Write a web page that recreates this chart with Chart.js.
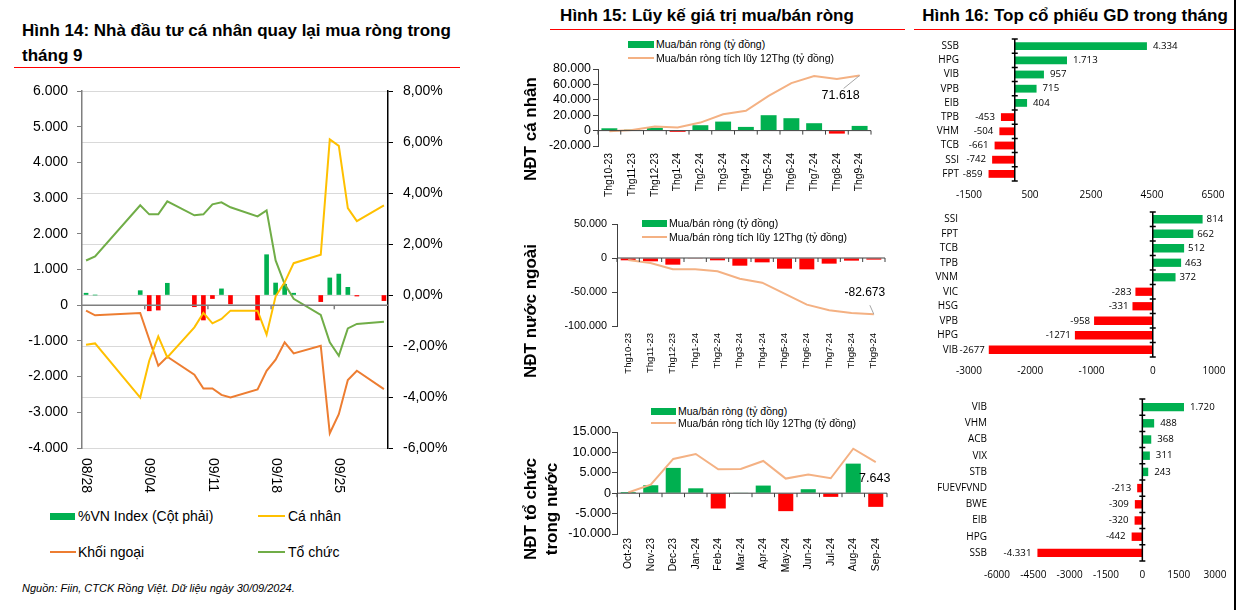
<!DOCTYPE html>
<html>
<head>
<meta charset="utf-8">
<script src="https://cdn.jsdelivr.net/npm/chart.js@4.4.0/dist/chart.umd.min.js"></script>
<style>
body { margin: 0; width: 1238px; height: 610px; background: #fff; position: relative; overflow: hidden; font-family: "Liberation Sans", Arial, sans-serif; color: #000; }
canvas { position: absolute; }
.title { position: absolute; font-weight: bold; font-size: 17px; line-height: 25px; white-space: nowrap; }
.rule { position: absolute; height: 0; border-top: 1.5px solid #f00; }
.rot { position: absolute; font-weight: bold; font-size: 17px; line-height: 21px; white-space: nowrap; text-align: center; transform: translate(-50%, -50%) rotate(-90deg); }
.lg { position: absolute; white-space: nowrap; height: 14px; line-height: 14px; }
.lg span { display: inline-block; vertical-align: middle; }
.small { font-size: 10.5px; }
.big { font-size: 14px; height: 18px; line-height: 18px; }
</style>
</head>
<body>

<div class="title" style="left:22px; top:18px;">Hình 14: Nhà đầu tư cá nhân quay lại mua ròng trong<br>tháng 9</div>
<div class="rule" style="left:14px; top:67px; width:446px;"></div>
<div class="title" style="left:707px; top:3px; transform:translateX(-50%);">Hình 15: Lũy kế giá trị mua/bán ròng</div>
<div class="rule" style="left:550px; top:29px; width:355px;"></div>
<div class="title" style="left:1075px; top:3px; transform:translateX(-50%);">Hình 16: Top cổ phiếu GD trong tháng</div>
<div class="rule" style="left:914px; top:29px; width:322px;"></div>
<div style="position:absolute; left:1234px; top:0; width:1.5px; height:610px; background:#000;"></div>

<canvas id="c14" width="450" height="424" style="left:14px; top:80px;"></canvas>
<canvas id="c15a" width="340" height="145" style="left:540px; top:60px;"></canvas>
<canvas id="c15b" width="355" height="175" style="left:540px; top:215px;"></canvas>
<canvas id="c15c" width="357" height="160" style="left:540px; top:422px;"></canvas>
<canvas id="c16a" width="315" height="175" style="left:915px; top:30px;"></canvas>
<canvas id="c16b" width="315" height="175" style="left:915px; top:205px;"></canvas>
<canvas id="c16c" width="316" height="200" style="left:915px; top:390px;"></canvas>

<div class="rot" style="left:530px; top:129px;">NĐT cá nhân</div>
<div class="rot" style="left:530px; top:311px;">NĐT nước ngoài</div>
<div class="rot" style="left:541px; top:509px;">NĐT tổ chức<br>trong nước</div>

<div class="lg big" style="left:50px; top:506px;"><span style="width:25px; height:7px; background:#00B050;"></span><span style="margin-left:3px;">%VN Index (Cột phải)</span></div>
<div class="lg big" style="left:258px; top:506px;"><span style="width:27px; height:2px; background:#FFC000;"></span><span style="margin-left:3px;">Cá nhân</span></div>
<div class="lg big" style="left:50px; top:542px;"><span style="width:26px; height:2px; background:#ED7D31;"></span><span style="margin-left:2px;">Khối ngoại</span></div>
<div class="lg big" style="left:258px; top:542px;"><span style="width:27px; height:2px; background:#70AD47;"></span><span style="margin-left:3px;">Tổ chức</span></div>
<div style="position:absolute; left:22px; top:582px; font-size:11px; font-style:italic; white-space:nowrap;">Nguồn: Fiin, CTCK Rồng Việt. Dữ liệu ngày 30/09/2024.</div>

<div class="lg small" style="left:628px; top:36px;"><span style="width:26px; height:7px; background:#00B050;"></span><span style="margin-left:2px;">Mua/bán ròng (tỷ đồng)</span></div>
<div class="lg small" style="left:628px; top:50px;"><span style="width:26px; height:2px; background:#F4B183;"></span><span style="margin-left:2px;">Mua/bán ròng tích lũy 12Thg (tỷ đồng)</span></div>
<div class="lg small" style="left:642px; top:215px;"><span style="width:25px; height:7px; background:#00B050;"></span><span style="margin-left:2px;">Mua/bán ròng (tỷ đồng)</span></div>
<div class="lg small" style="left:642px; top:229px;"><span style="width:25px; height:2px; background:#F4B183;"></span><span style="margin-left:2px;">Mua/bán ròng tích lũy 12Thg (tỷ đồng)</span></div>
<div class="lg small" style="left:651px; top:403px;"><span style="width:25px; height:7px; background:#00B050;"></span><span style="margin-left:2px;">Mua/bán ròng (tỷ đồng)</span></div>
<div class="lg small" style="left:651px; top:415px;"><span style="width:25px; height:2px; background:#F4B183;"></span><span style="margin-left:2px;">Mua/bán ròng tích lũy 12Thg (tỷ đồng)</span></div>

<script>
// Hinh 14: days counted from 08/28
var h14Days = [0, 1, 6, 7, 8, 9, 12, 13, 14, 15, 16, 19, 20, 21, 22, 23, 26, 27, 28, 29, 30, 33];
var h14TickDays = [0, 7, 14, 21, 28];
var h14TickLabels = ["08/28", "09/04", "09/11", "09/18", "09/25"];
var h14TickMarks = [6.5, 13.5, 20.5, 27.5];
var h14VnIndex = [0.07, 0, 0.17, -0.62, -0.59, 0.46, -0.46, -0.98, -0.14, 0.24, -0.35, -0.98, 1.58, 0.47, 0.42, 0.07, -0.26, 0.67, 0.82, 0.30, -0.04, -0.22];
var h14CaNhan = [-1107, -1070, -2587, -1556, -873, -1463, -621, -217, -508, -385, -152, -152, -826, 250, 640, 1177, 1413, 4643, 4463, 2722, 2357, 2798];
var h14KhoiNgoai = [-152, -284, -217, -960, -1697, -1444, -1949, -2334, -2334, -2511, -2587, -2362, -1837, -1528, -1042, -1351, -1135, -3587, -3053, -2098, -1837, -2351];
var h14ToChuc = [1253, 1365, 2798, 2545, 2545, 2910, 2517, 2545, 2826, 2882, 2742, 2489, 2657, 1253, 590, 180, -272, -1042, -1416, -649, -525, -461];

// Hinh 15
var h15Months = ["Thg10-23", "Thg11-23", "Thg12-23", "Thg1-24", "Thg2-24", "Thg3-24", "Thg4-24", "Thg5-24", "Thg6-24", "Thg7-24", "Thg8-24", "Thg9-24"];
var h15MonthsEn = ["Oct-23", "Nov-23", "Dec-23", "Jan-24", "Feb-24", "Mar-24", "Apr-24", "May-24", "Jun-24", "Jul-24", "Aug-24", "Sep-24"];
var h15CaNhanNet = [3000, 1300, 3700, -1700, 7000, 11700, 4800, 20000, 16100, 9600, -3900, 6100];
var h15CaNhanCum = [-1000, 900, 5200, 3900, 10400, 21300, 25700, 45200, 61700, 70800, 67000, 71618];
var h15NgoaiNet = [-3400, -4900, -9800, -500, -3400, -11300, -6400, -15700, -16700, -8300, -3900, -2400];
var h15NgoaiCum = [-2900, -7300, -16600, -16600, -19600, -30400, -36300, -52400, -68600, -76900, -80900, -82673];
var h15ToChucNet = [300, 1950, 6200, 1200, -3750, 150, 1870, -4400, 980, -900, 7250, -3350];
var h15ToChucCum = [160, 2100, 8400, 9600, 5860, 5940, 7900, 3580, 4560, 3660, 10900, 7643];

// Hinh 16
var h16aNames = ["SSB", "HPG", "VIB", "VPB", "EIB", "TPB", "VHM", "TCB", "SSI", "FPT"];
var h16aValues = [4334, 1713, 957, 715, 404, -453, -504, -661, -742, -859];
var h16aTicks = [-1500, 500, 2500, 4500, 6500];
var h16bNames = ["SSI", "FPT", "TCB", "TPB", "VNM", "VIC", "HSG", "VPB", "HPG", "VIB"];
var h16bValues = [814, 662, 512, 463, 372, -283, -331, -958, -1271, -2677];
var h16bTicks = [-3000, -2000, -1000, 0, 1000];
var h16cNames = ["VIB", "VHM", "ACB", "VIX", "STB", "FUEVFVND", "BWE", "EIB", "HPG", "SSB"];
var h16cValues = [1720, 488, 368, 311, 243, -213, -309, -320, -442, -4331];
var h16cTicks = [-6000, -4500, -3000, -1500, 0, 1500, 3000];

var GREEN = "#00B050";
var RED = "#FF0000";

Chart.defaults.font.family = "'Liberation Sans', Arial, sans-serif";
Chart.defaults.color = "#000";

function fmtDot(v) {
	var s = String(Math.abs(Math.round(v))).replace(/\B(?=(\d{3})+(?!\d))/g, ".");
	return (v < 0 ? "-" : "") + s;
}

function pct(v) {
	return v.toFixed(2).replace(".", ",") + "%";
}

function signColors(values) {
	var out = [];
	for (var i = 0; i < values.length; ++i) {
		out.push(values[i] < 0 ? RED : GREEN);
	}
	return out;
}

function pairs(xs, ys) {
	var out = [];
	for (var i = 0; i < xs.length; ++i) {
		out.push({ x: xs[i], y: ys[i] });
	}
	return out;
}

// fixed axis sizes, and no extra room asked for the end labels
function fixWidth(w) {
	return function(s) {
		s.width = w;
		s.paddingTop = 0;
		s.paddingBottom = 0;
	};
}

function fixHeight(h) {
	return function(s) {
		s.height = h;
		s.paddingLeft = 0;
		s.paddingRight = 0;
	};
}

// axis line drawn at value 0 with small marks, as excel does
var zeroAxis = {
	id: "zeroAxis",
	afterDatasetsDraw: function(chart, args, opts) {
		var ctx = chart.ctx;
		var area = chart.chartArea;
		var valScale = chart.scales[opts.valueScale];
		var catScale = chart.scales[opts.catScale];
		var zero = valScale.getPixelForValue(0);
		var marks = [];
		var i;
		if (opts.marks) {
			for (i = 0; i < opts.marks.length; ++i) marks.push(catScale.getPixelForValue(opts.marks[i]));
		} else {
			for (i = 0; i <= chart.data.labels.length; ++i) marks.push(catScale.getPixelForValue(i - 0.5));
		}
		ctx.save();
		ctx.strokeStyle = opts.color;
		ctx.lineWidth = opts.width;
		ctx.beginPath();
		if (valScale.isHorizontal()) {
			ctx.moveTo(zero, area.top);
			ctx.lineTo(zero, area.bottom);
			for (i = 0; i < marks.length; ++i) {
				ctx.moveTo(zero - opts.before, marks[i]);
				ctx.lineTo(zero + opts.after, marks[i]);
			}
		} else {
			ctx.moveTo(area.left, zero);
			ctx.lineTo(area.right, zero);
			for (i = 0; i < marks.length; ++i) {
				ctx.moveTo(marks[i], zero - opts.before);
				ctx.lineTo(marks[i], zero + opts.after);
			}
		}
		ctx.stroke();
		ctx.restore();
	}
};

var valueLabels = {
	id: "valueLabels",
	afterDatasetsDraw: function(chart, args, opts) {
		var ctx = chart.ctx;
		var meta = chart.getDatasetMeta(0);
		var values = chart.data.datasets[0].data;
		ctx.save();
		ctx.font = opts.font;
		ctx.fillStyle = "#000";
		ctx.textBaseline = "middle";
		for (var i = 0; i < meta.data.length; ++i) {
			var bar = meta.data[i];
			var v = values[i];
			var text = opts.dots ? fmtDot(v) : String(v);
			ctx.textAlign = v < 0 ? "right" : "left";
			ctx.fillText(text, bar.x + (v < 0 ? -opts.gap : opts.gap), bar.y);
		}
		ctx.restore();
	}
};

var endNote = {
	id: "endNote",
	afterDatasetsDraw: function(chart, args, opts) {
		var ctx = chart.ctx;
		var meta = chart.getDatasetMeta(1);
		var last = meta.data.length - 1;
		var pt = meta.data[last];
		var v = chart.data.datasets[1].data[last];
		ctx.save();
		if (opts.lead) {
			ctx.strokeStyle = "#a6a6a6";
			ctx.lineWidth = 1;
			ctx.beginPath();
			ctx.moveTo(pt.x, pt.y);
			ctx.lineTo(pt.x + opts.lead[0], pt.y + opts.lead[1]);
			ctx.stroke();
		}
		ctx.font = opts.font;
		ctx.fillStyle = "#000";
		ctx.textAlign = "center";
		ctx.textBaseline = "middle";
		ctx.fillText(fmtDot(v), pt.x + opts.dx, pt.y + opts.dy);
		ctx.restore();
	}
};

// date labels of fig 14 read downwards
var downLabels = {
	id: "downLabels",
	afterDraw: function(chart, args, opts) {
		var ctx = chart.ctx;
		var scale = chart.scales.x;
		ctx.save();
		ctx.font = opts.font;
		ctx.fillStyle = "#000";
		ctx.textAlign = "left";
		ctx.textBaseline = "middle";
		for (var i = 0; i < h14TickDays.length; ++i) {
			ctx.save();
			ctx.translate(scale.getPixelForValue(h14TickDays[i]), chart.chartArea.bottom + opts.pad);
			ctx.rotate(Math.PI / 2);
			ctx.fillText(h14TickLabels[i], 0, 0);
			ctx.restore();
		}
		ctx.restore();
	}
};

new Chart(document.getElementById("c14"), {
	type: "bar",
	data: {
		datasets: [
			{ type: "line", label: "Cá nhân", data: pairs(h14Days, h14CaNhan), borderColor: "#FFC000", borderWidth: 2, pointRadius: 0, tension: 0, yAxisID: "y", order: 1 },
			{ type: "line", label: "Khối ngoại", data: pairs(h14Days, h14KhoiNgoai), borderColor: "#ED7D31", borderWidth: 2, pointRadius: 0, tension: 0, yAxisID: "y", order: 1 },
			{ type: "line", label: "Tổ chức", data: pairs(h14Days, h14ToChuc), borderColor: "#70AD47", borderWidth: 2, pointRadius: 0, tension: 0, yAxisID: "y", order: 1 },
			{ type: "bar", label: "%VN Index (Cột phải)", data: pairs(h14Days, h14VnIndex), backgroundColor: signColors(h14VnIndex), barThickness: 4, yAxisID: "y2", order: 5 }
		]
	},
	options: {
		responsive: false,
		animation: false,
		layout: { padding: { top: 11, right: 0, bottom: 0, left: 0 } },
		plugins: {
			legend: { display: false },
			tooltip: { enabled: false },
			zeroAxis: { valueScale: "y", catScale: "x", marks: h14TickMarks, color: "#7f7f7f", width: 1.5, before: 0, after: 4 },
			downLabels: { font: "14px 'Liberation Sans', Arial", pad: 10 }
		},
		scales: {
			x: {
				type: "linear", min: -0.45, max: 33.45, offset: false,
				grid: { display: false }, border: { display: false }, ticks: { display: false },
				afterFit: fixHeight(56)
			},
			y: {
				position: "left", min: -4000, max: 6000,
				ticks: { stepSize: 1000, autoSkip: false, callback: function(v) { return fmtDot(v); }, font: { size: 14 }, padding: 9 },
				grid: { drawOnChartArea: false, color: "#7f7f7f", tickLength: 5 },
				border: { color: "#7f7f7f", width: 1.5 },
				afterFit: fixWidth(68)
			},
			y2: {
				position: "right", min: -6, max: 8,
				ticks: { stepSize: 2, autoSkip: false, callback: function(v) { return pct(v); }, font: { size: 14 }, padding: 10 },
				grid: { color: "#d9d9d9", tickColor: "#000", tickLength: 5 },
				border: { color: "#000", width: 1.5 },
				afterFit: fixWidth(76)
			}
		}
	},
	plugins: [zeroAxis, downLabels]
});

function flowChart(id, labels, net, cum, yMin, yMax, yStep, geo, note) {
	return new Chart(document.getElementById(id), {
		type: "bar",
		data: {
			labels: labels,
			datasets: [
				{ label: "Mua/bán ròng (tỷ đồng)", data: net, backgroundColor: signColors(net), barPercentage: geo.bar, categoryPercentage: 1, order: 5 },
				{ type: "line", label: "Mua/bán ròng tích lũy 12Thg (tỷ đồng)", data: cum, borderColor: "#F4B183", borderWidth: 2, pointRadius: 0, tension: 0, order: 1 }
			]
		},
		options: {
			responsive: false,
			animation: false,
			layout: { padding: { top: geo.top, right: geo.right, bottom: 0, left: 0 } },
			plugins: {
				legend: { display: false },
				tooltip: { enabled: false },
				zeroAxis: { valueScale: "y", catScale: "x", color: "#404040", width: 1, before: 0, after: 4 },
				endNote: note
			},
			scales: {
				x: {
					grid: { display: false, drawTicks: false }, border: { display: false },
					ticks: { minRotation: 90, maxRotation: 90, autoSkip: false, font: { size: geo.xFont }, padding: geo.xPad },
					afterFit: fixHeight(geo.xHeight)
				},
				y: {
					min: yMin, max: yMax,
					ticks: { stepSize: yStep, autoSkip: false, callback: function(v) { return fmtDot(v); }, font: { size: geo.yFont }, padding: geo.yPad },
					grid: { drawOnChartArea: false, color: "#404040", tickLength: 5 },
					border: { color: "#404040", width: 1 },
					afterFit: fixWidth(geo.yWidth)
				}
			}
		},
		plugins: [zeroAxis, endNote]
	});
}

flowChart("c15a", h15Months, h15CaNhanNet, h15CaNhanCum, -20000, 80000, 20000,
	{ bar: 0.7, top: 9, right: 9, xFont: 10.3, xPad: 7, xHeight: 59, yFont: 12.4, yPad: 2, yWidth: 58 },
	{ font: "12.5px 'Liberation Sans', Arial", dx: -19, dy: 20, lead: [-16, 13] });

flowChart("c15b", h15Months, h15NgoaiNet, h15NgoaiCum, -100000, 50000, 50000,
	{ bar: 0.67, top: 9, right: 10, xFont: 9.5, xPad: 7, xHeight: 64, yFont: 10.8, yPad: 5, yWidth: 77 },
	{ font: "12px 'Liberation Sans', Arial", dx: -9, dy: -22, lead: [-4, -9] });

flowChart("c15c", h15MonthsEn, h15ToChucNet, h15ToChucCum, -10000, 15000, 5000,
	{ bar: 0.67, top: 10, right: 10, xFont: 10.3, xPad: 4, xHeight: 48, yFont: 12.6, yPad: 1, yWidth: 77 },
	{ font: "12.5px 'Liberation Sans', Arial", dx: -1, dy: 17 });

function topChart(id, names, values, ticks, geo) {
	return new Chart(document.getElementById(id), {
		type: "bar",
		data: {
			labels: names,
			datasets: [{ data: values, backgroundColor: signColors(values), barPercentage: geo.bar, categoryPercentage: 1 }]
		},
		options: {
			indexAxis: "y",
			responsive: false,
			animation: false,
			layout: { padding: { top: geo.top, right: geo.right, bottom: 0, left: 0 } },
			plugins: {
				legend: { display: false },
				tooltip: { enabled: false },
				zeroAxis: { valueScale: "x", catScale: "y", color: "#000", width: 1.5, before: 3, after: 3 },
				valueLabels: { font: "9.7px 'Open Sans'", gap: geo.gap, dots: geo.dots }
			},
			scales: {
				x: {
					min: ticks[0], max: ticks[ticks.length - 1],
					afterBuildTicks: function(s) {
						s.ticks = ticks.map(function(v) { return { value: v }; });
					},
					grid: { display: false, drawTicks: false }, border: { display: false },
					ticks: { callback: function(v) { return String(v); }, font: { family: "'Open Sans'", size: 10 }, padding: 8, maxRotation: 0 },
					afterFit: fixHeight(geo.xHeight)
				},
				y: {
					grid: { display: false, drawTicks: false }, border: { display: false },
					ticks: { autoSkip: false, font: { family: "'Open Sans'", size: 10 }, padding: geo.yPad },
					afterFit: fixWidth(geo.yWidth)
				}
			}
		},
		plugins: [zeroAxis, valueLabels]
	});
}

topChart("c16a", h16aNames, h16aValues, h16aTicks, { bar: 0.55, top: 9, right: 17, xHeight: 24, yWidth: 54, yPad: 10, gap: 6, dots: true });
topChart("c16b", h16bNames, h16bValues, h16bTicks, { bar: 0.57, top: 7, right: 16, xHeight: 23, yWidth: 54, yPad: 11, gap: 4, dots: false });
topChart("c16c", h16cNames, h16cValues, h16cTicks, { bar: 0.52, top: 9, right: 16, xHeight: 29, yWidth: 82, yPad: 10, gap: 6, dots: true });
</script>
</body>
</html>
